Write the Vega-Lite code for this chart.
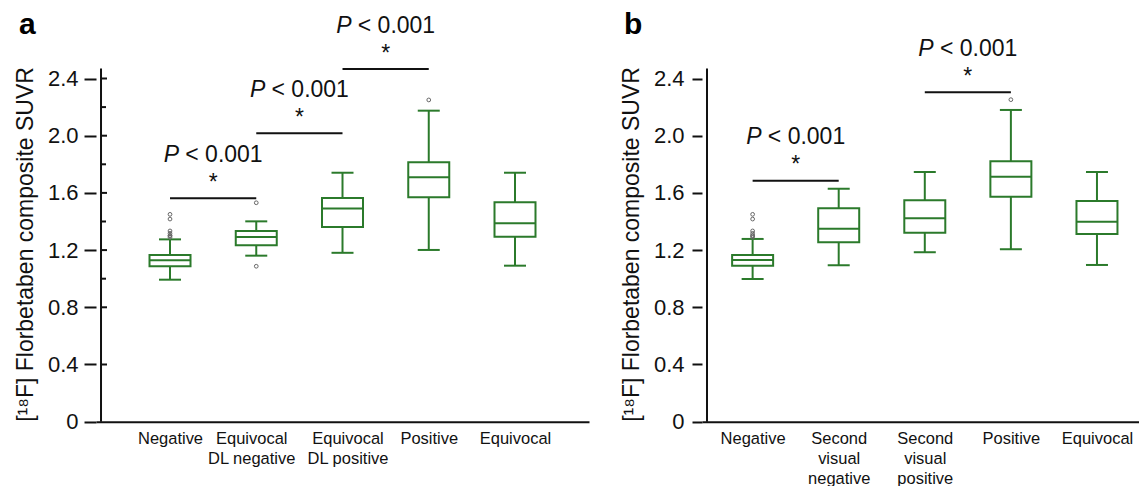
{
  "$schema": "https://vega.github.io/schema/vega-lite/v6.json",
  "padding": {"left": 14, "top": 7, "right": 0, "bottom": 0},
  "spacing": 31,
  "config": {
    "view": {"stroke": null},
    "font": "Liberation Sans",
    "axis": {"grid": false, "domainColor": "#111", "tickColor": "#111", "labelColor": "#111", "titleColor": "#111"}
  },
  "datasets": {
    "boxesA": [
      {"pos": 1, "low": 0.993, "q1": 1.087, "med": 1.129, "q3": 1.166, "high": 1.275},
      {"pos": 2, "low": 1.161, "q1": 1.233, "med": 1.292, "q3": 1.334, "high": 1.401},
      {"pos": 3, "low": 1.181, "q1": 1.362, "med": 1.490, "q3": 1.564, "high": 1.741},
      {"pos": 4, "low": 1.201, "q1": 1.569, "med": 1.709, "q3": 1.814, "high": 2.175},
      {"pos": 5, "low": 1.091, "q1": 1.294, "med": 1.387, "q3": 1.534, "high": 1.741}
    ],
    "outA": [
      {"pos": 1, "v": 1.450}, {"pos": 1, "v": 1.417}, {"pos": 1, "v": 1.334}, {"pos": 1, "v": 1.317},
      {"pos": 1, "v": 1.303}, {"pos": 1, "v": 1.299}, {"pos": 1, "v": 1.290},
      {"pos": 2, "v": 1.531}, {"pos": 2, "v": 1.087}, {"pos": 4, "v": 2.250}
    ],
    "brA": [
      {"from": 1, "to": 2, "mid": 1.5, "y": 1.562},
      {"from": 2, "to": 3, "mid": 2.5, "y": 2.017},
      {"from": 3, "to": 4, "mid": 3.5, "y": 2.466}
    ],
    "boxesB": [
      {"pos": 1, "low": 0.998, "q1": 1.091, "med": 1.131, "q3": 1.166, "high": 1.278},
      {"pos": 2, "low": 1.094, "q1": 1.254, "med": 1.350, "q3": 1.492, "high": 1.629},
      {"pos": 3, "low": 1.185, "q1": 1.322, "med": 1.422, "q3": 1.548, "high": 1.746},
      {"pos": 4, "low": 1.206, "q1": 1.573, "med": 1.713, "q3": 1.821, "high": 2.180},
      {"pos": 5, "low": 1.096, "q1": 1.313, "med": 1.399, "q3": 1.543, "high": 1.746}
    ],
    "outB": [
      {"pos": 1, "v": 1.450}, {"pos": 1, "v": 1.417}, {"pos": 1, "v": 1.334}, {"pos": 1, "v": 1.317},
      {"pos": 1, "v": 1.303}, {"pos": 1, "v": 1.299}, {"pos": 1, "v": 1.290},
      {"pos": 4, "v": 2.252}
    ],
    "brB": [
      {"from": 1, "to": 2, "mid": 1.5, "y": 1.685},
      {"from": 3, "to": 4, "mid": 3.5, "y": 2.303}
    ],
    "majorA": [{"v": 0.4}, {"v": 0.8}, {"v": 1.2}, {"v": 1.6}, {"v": 2.0}, {"v": 2.4}],
    "minorA": [{"v": 1.0}, {"v": 1.4}, {"v": 1.8}, {"v": 2.2}]
  },
  "hconcat": [
    {
      "width": 493,
      "height": 414.7,
      "layer": [
        {
          "data": {"name": "boxesA"},
          "mark": {"type": "rule", "color": "#2b7a2b", "strokeWidth": 2},
          "encoding": {
            "x": {"field": "pos", "type": "quantitative", "scale": {"domain": [0.2, 5.8], "nice": false, "zero": false},
              "axis": {"values": [1, 2, 3, 4, 5], "labelExpr": "[['Negative'],['Equivocal','DL negative'],['Equivocal','DL positive'],['Positive'],['Equivocal']][datum.value-1]",
                "labelOffset": {"condition": [{"test": "datum.value == 2", "value": -5}, {"test": "datum.value == 3", "value": 5}], "value": 0},
                "ticks": false, "tickSize": 0, "domainWidth": 2, "labelFontSize": 16.5, "labelPadding": 9, "labelLineHeight": 20, "title": null, "labelFlush": false, "labelOverlap": false}},
            "y": {"field": "low", "type": "quantitative", "scale": {"domain": [0, 2.9], "nice": false},
              "axis": {"values": [0, 0.4, 0.8, 1.2, 1.6, 2.0, 2.4], "labelExpr": "datum.value == 0 ? '0' : format(datum.value, '.1f')",
                "tickSize": 12, "tickWidth": 2, "domain": false, "labelFontSize": 22, "labelPadding": 6,
                "title": "[¹⁸F] Florbetaben composite SUVR", "titleFontSize": 23, "titleFontWeight": "normal", "titlePadding": 10, "titleY": 237}},
            "y2": {"field": "high"}
          }
        },
        {
          "data": {"name": "boxesA"},
          "mark": {"type": "bar", "size": 41, "fill": "white", "stroke": "#2b7a2b", "strokeWidth": 2},
          "encoding": {
            "x": {"field": "pos", "type": "quantitative"},
            "y": {"field": "q1", "type": "quantitative"},
            "y2": {"field": "q3"}
          }
        },
        {
          "data": {"name": "boxesA"},
          "mark": {"type": "tick", "orient": "horizontal", "size": 41, "thickness": 2, "color": "#2b7a2b", "opacity": 1},
          "encoding": {"x": {"field": "pos", "type": "quantitative"}, "y": {"field": "med", "type": "quantitative"}}
        },
        {
          "data": {"name": "boxesA"},
          "mark": {"type": "tick", "orient": "horizontal", "size": 22, "thickness": 2, "color": "#2b7a2b", "opacity": 1},
          "encoding": {"x": {"field": "pos", "type": "quantitative"}, "y": {"field": "low", "type": "quantitative"}}
        },
        {
          "data": {"name": "boxesA"},
          "mark": {"type": "tick", "orient": "horizontal", "size": 22, "thickness": 2, "color": "#2b7a2b", "opacity": 1},
          "encoding": {"x": {"field": "pos", "type": "quantitative"}, "y": {"field": "high", "type": "quantitative"}}
        },
        {
          "data": {"name": "outA"},
          "mark": {"type": "point", "shape": "circle", "filled": false, "size": 14, "strokeWidth": 1, "color": "#666", "opacity": 1},
          "encoding": {"x": {"field": "pos", "type": "quantitative"}, "y": {"field": "v", "type": "quantitative"}}
        },
        {
          "data": {"values": [{}]},
          "mark": {"type": "rule", "strokeWidth": 2, "color": "#111"},
          "encoding": {"x": {"datum": 0.2, "type": "quantitative"}, "y": {"datum": 0, "type": "quantitative"}, "y2": {"datum": 2.47}}
        },
        {
          "data": {"values": [{}]},
          "mark": {"type": "text", "text": "a", "fontSize": 30, "fontWeight": "bold", "dx": -82, "align": "left", "baseline": "alphabetic", "color": "#000"},
          "encoding": {"x": {"datum": 0.2, "type": "quantitative"}, "y": {"datum": 2.711, "type": "quantitative"}}
        },
        {
          "data": {"name": "majorA"},
          "mark": {"type": "tick", "orient": "horizontal", "size": 6, "thickness": 2, "xOffset": 3, "color": "#111", "opacity": 1},
          "encoding": {"x": {"datum": 0.2, "type": "quantitative"}, "y": {"field": "v", "type": "quantitative"}}
        },
        {
          "data": {"name": "minorA"},
          "mark": {"type": "tick", "orient": "horizontal", "size": 5, "thickness": 2, "xOffset": 2.5, "color": "#111", "opacity": 1},
          "encoding": {"x": {"datum": 0.2, "type": "quantitative"}, "y": {"field": "v", "type": "quantitative"}}
        },
        {
          "data": {"name": "brA"},
          "mark": {"type": "rule", "strokeWidth": 2, "color": "#111"},
          "encoding": {"x": {"field": "from", "type": "quantitative"}, "x2": {"field": "to"}, "y": {"field": "y", "type": "quantitative"}}
        },
        {
          "data": {"name": "brA"},
          "mark": {"type": "text", "text": "*", "fontSize": 23, "dy": -8.5, "baseline": "alphabetic", "align": "center", "color": "#111"},
          "encoding": {"x": {"field": "mid", "type": "quantitative"}, "y": {"field": "y", "type": "quantitative"}}
        },
        {
          "data": {"name": "brA"},
          "mark": {"type": "text", "text": "P", "fontSize": 23, "fontStyle": "italic", "dy": -36.5, "dx": -49.5, "baseline": "alphabetic", "align": "left", "color": "#111"},
          "encoding": {"x": {"field": "mid", "type": "quantitative"}, "y": {"field": "y", "type": "quantitative"}}
        },
        {
          "data": {"name": "brA"},
          "mark": {"type": "text", "text": "< 0.001", "fontSize": 23, "dy": -36.5, "dx": 49.5, "baseline": "alphabetic", "align": "right", "color": "#111"},
          "encoding": {"x": {"field": "mid", "type": "quantitative"}, "y": {"field": "y", "type": "quantitative"}}
        }
      ]
    },
    {
      "width": 437,
      "height": 414.7,
      "layer": [
        {
          "data": {"name": "boxesB"},
          "mark": {"type": "rule", "color": "#2b7a2b", "strokeWidth": 2},
          "encoding": {
            "x": {"field": "pos", "type": "quantitative", "scale": {"domain": [0.47, 5.43], "nice": false, "zero": false},
              "axis": {"values": [1, 2, 3, 4, 5], "labelExpr": "[['Negative'],['Second','visual','negative'],['Second','visual','positive'],['Positive'],['Equivocal']][datum.value-1]",
                "ticks": false, "tickSize": 0, "domainWidth": 2, "labelFontSize": 16.5, "labelPadding": 9, "labelLineHeight": 20, "title": null, "labelFlush": false, "labelOverlap": false}},
            "y": {"field": "low", "type": "quantitative", "scale": {"domain": [0, 2.9], "nice": false},
              "axis": {"values": [0, 0.4, 0.8, 1.2, 1.6, 2.0, 2.4], "labelExpr": "datum.value == 0 ? '0' : format(datum.value, '.1f')",
                "tickSize": 10, "tickWidth": 2, "domain": false, "labelFontSize": 22, "labelPadding": 8,
                "title": "[¹⁸F] Florbetaben composite SUVR", "titleFontSize": 23, "titleFontWeight": "normal", "titlePadding": 10, "titleY": 237}},
            "y2": {"field": "high"}
          }
        },
        {
          "data": {"name": "boxesB"},
          "mark": {"type": "bar", "size": 41, "fill": "white", "stroke": "#2b7a2b", "strokeWidth": 2},
          "encoding": {
            "x": {"field": "pos", "type": "quantitative"},
            "y": {"field": "q1", "type": "quantitative"},
            "y2": {"field": "q3"}
          }
        },
        {
          "data": {"name": "boxesB"},
          "mark": {"type": "tick", "orient": "horizontal", "size": 41, "thickness": 2, "color": "#2b7a2b", "opacity": 1},
          "encoding": {"x": {"field": "pos", "type": "quantitative"}, "y": {"field": "med", "type": "quantitative"}}
        },
        {
          "data": {"name": "boxesB"},
          "mark": {"type": "tick", "orient": "horizontal", "size": 22, "thickness": 2, "color": "#2b7a2b", "opacity": 1},
          "encoding": {"x": {"field": "pos", "type": "quantitative"}, "y": {"field": "low", "type": "quantitative"}}
        },
        {
          "data": {"name": "boxesB"},
          "mark": {"type": "tick", "orient": "horizontal", "size": 22, "thickness": 2, "color": "#2b7a2b", "opacity": 1},
          "encoding": {"x": {"field": "pos", "type": "quantitative"}, "y": {"field": "high", "type": "quantitative"}}
        },
        {
          "data": {"name": "outB"},
          "mark": {"type": "point", "shape": "circle", "filled": false, "size": 14, "strokeWidth": 1, "color": "#666", "opacity": 1},
          "encoding": {"x": {"field": "pos", "type": "quantitative"}, "y": {"field": "v", "type": "quantitative"}}
        },
        {
          "data": {"values": [{}]},
          "mark": {"type": "rule", "strokeWidth": 2, "color": "#111"},
          "encoding": {"x": {"datum": 0.47, "type": "quantitative"}, "y": {"datum": 0, "type": "quantitative"}, "y2": {"datum": 2.47}}
        },
        {
          "data": {"values": [{}]},
          "mark": {"type": "text", "text": "b", "fontSize": 30, "fontWeight": "bold", "dx": -83, "align": "left", "baseline": "alphabetic", "color": "#000"},
          "encoding": {"x": {"datum": 0.47, "type": "quantitative"}, "y": {"datum": 2.711, "type": "quantitative"}}
        },
        {
          "data": {"name": "brB"},
          "mark": {"type": "rule", "strokeWidth": 2, "color": "#111"},
          "encoding": {"x": {"field": "from", "type": "quantitative"}, "x2": {"field": "to"}, "y": {"field": "y", "type": "quantitative"}}
        },
        {
          "data": {"name": "brB"},
          "mark": {"type": "text", "text": "*", "fontSize": 23, "dy": -8.5, "baseline": "alphabetic", "align": "center", "color": "#111"},
          "encoding": {"x": {"field": "mid", "type": "quantitative"}, "y": {"field": "y", "type": "quantitative"}}
        },
        {
          "data": {"name": "brB"},
          "mark": {"type": "text", "text": "P", "fontSize": 23, "fontStyle": "italic", "dy": -36.5, "dx": -49.5, "baseline": "alphabetic", "align": "left", "color": "#111"},
          "encoding": {"x": {"field": "mid", "type": "quantitative"}, "y": {"field": "y", "type": "quantitative"}}
        },
        {
          "data": {"name": "brB"},
          "mark": {"type": "text", "text": "< 0.001", "fontSize": 23, "dy": -36.5, "dx": 49.5, "baseline": "alphabetic", "align": "right", "color": "#111"},
          "encoding": {"x": {"field": "mid", "type": "quantitative"}, "y": {"field": "y", "type": "quantitative"}}
        }
      ]
    }
  ]
}
